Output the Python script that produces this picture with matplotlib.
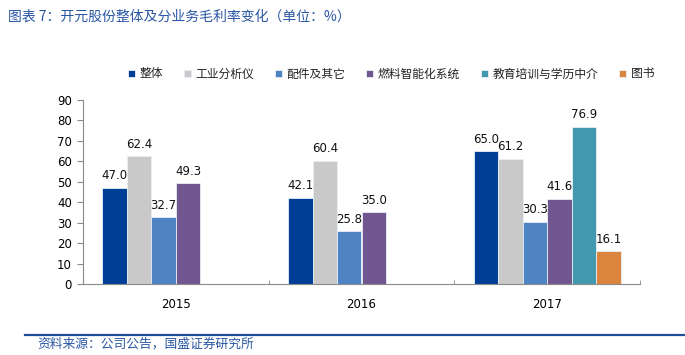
import numpy as np
import matplotlib.pyplot as plt

plt.rcParams['font.family'] = ['Noto Sans CJK SC', 'DejaVu Sans']

# 数据
years = ["2015", "2016", "2017"]
series_names = ["整体", "工业分析仪", "配件及其它", "燃料智能化系统", "教育培训与学历中介", "图书"]
overall = [47.0, 42.1, 65.0]
analyzer = [62.4, 60.4, 61.2]
parts = [32.7, 25.8, 30.3]
fuel = [49.3, 35.0, 41.6]
education = [np.nan, np.nan, 76.9]
books = [np.nan, np.nan, 16.1]
y_ticks = [0, 10, 20, 30, 40, 50, 60, 70, 80, 90]

colors = ["#003F95", "#C9C9C9", "#4F84C4", "#72568F", "#4198AF", "#DB843D"]
series = [overall, analyzer, parts, fuel, education, books]

fig = plt.figure(figsize=(6.85, 3.55), dpi=100)
ax = fig.add_axes([83 / 685, 1 - 284 / 355, (640 - 83) / 685, (284 - 100) / 355])

x = np.arange(len(years))
w = 0.1317
handles = []
for j, (vals, name, c) in enumerate(zip(series, series_names, colors)):
    pos = x + (j - 2.5) * w
    bars = ax.bar(pos, vals, width=w, color=c, edgecolor="#E8EEF6", linewidth=0.6, label=name)
    handles.append(bars)
    labels = ["" if np.isnan(v) else f"{v:.1f}" for v in vals]
    ax.bar_label(bars, labels=labels, padding=4, fontsize=8.5, family="DejaVu Sans", color="#111111")

ax.set_xlim(-0.5, 2.5)
ax.set_ylim(0, 90)
ax.set_yticks(y_ticks)
ax.set_xticks(x)
ax.set_xticklabels(years)
ax.set_xticks([-0.5, 0.5, 1.5, 2.5], minor=True)
ax.tick_params(axis="x", which="major", length=0, pad=10, labelsize=8.5)
ax.tick_params(axis="x", which="minor", length=3, direction="in", color="#898989")
ax.tick_params(axis="y", length=4, direction="out", color="#898989", labelsize=8.5, pad=4)
for lab in ax.get_xticklabels() + ax.get_yticklabels():
    lab.set_family("DejaVu Sans")
for s in ["top", "right"]:
    ax.spines[s].set_visible(False)
for s in ["left", "bottom"]:
    ax.spines[s].set_color("#898989")
    ax.spines[s].set_linewidth(0.8)

fig.legend(handles=handles, loc="center", bbox_to_anchor=(391 / 685, 1 - 74 / 355), ncol=6,
           frameon=False, fontsize=8.5, handlelength=0.6, handleheight=0.6, handletextpad=0.4,
           columnspacing=1.75, borderaxespad=0, labelcolor="#222222")

# 标题与来源
fig.text(8 / 685, 1 - 17 / 355, "图表 7：开元股份整体及分业务毛利率变化（单位：%）", fontsize=10,
         color="#2A56A3", va="center", ha="left")
fig.add_artist(plt.Line2D([25 / 685, 1], [1 - 335 / 355, 1 - 335 / 355], color="#1F4E96", linewidth=1.6))
fig.text(37 / 685, 1 - 344 / 355, "资料来源：公司公告，国盛证券研究所", fontsize=9.2,
         color="#2A56A3", va="center", ha="left")

fig.savefig("out.png", dpi=100)
